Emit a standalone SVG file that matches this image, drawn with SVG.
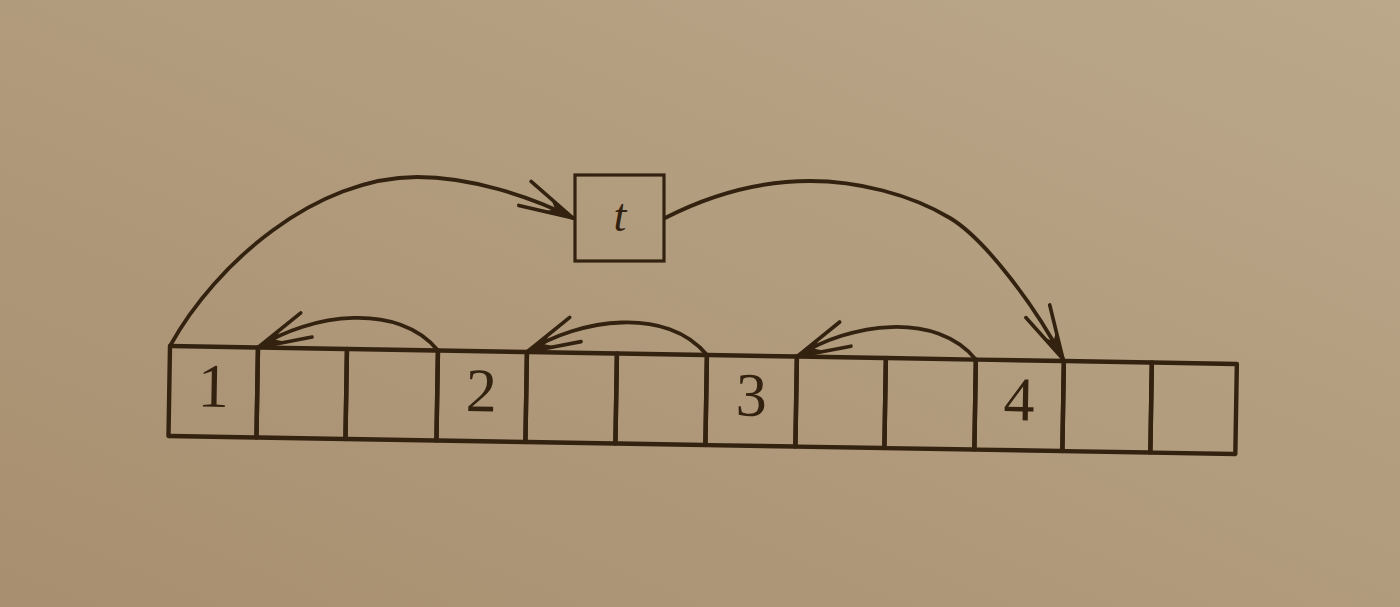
<svg xmlns="http://www.w3.org/2000/svg" width="1400" height="607" viewBox="0 0 1400 607">
<defs>
<linearGradient id="paper" x1="1" y1="0" x2="0" y2="1">
<stop offset="0" stop-color="#bba78a"/>
<stop offset="1" stop-color="#a78f6f"/>
</linearGradient>
<marker id="arr" markerUnits="userSpaceOnUse" viewBox="-70 -40 80 80" markerWidth="80" markerHeight="80" refX="0" refY="0" orient="auto" overflow="visible">
<path d="M0,0 L-54,-13.5 M0,0 L-54,13.5" fill="none" stroke="#33220f" stroke-width="3.6" stroke-linecap="round"/>
<path d="M2,0 L-30,-8.5 L-20,0 L-30,8.5 Z" fill="#33220f"/>
</marker>
<marker id="arrL" markerUnits="userSpaceOnUse" viewBox="-70 -40 80 80" markerWidth="80" markerHeight="80" refX="0" refY="0" orient="auto" overflow="visible">
<path d="M0,0 L-54.7,5.7 M0,0 L-51,-20.7" fill="none" stroke="#33220f" stroke-width="3.6" stroke-linecap="round"/>
<path d="M2,-0.5 L-29,3 L-19,-3 L-27,-11 Z" fill="#33220f"/>
</marker>
<style>
.cell rect{stroke:#33220f;fill:none;stroke-width:4.4;stroke-linejoin:round}
.arc{stroke:#33220f;fill:none;stroke-width:3.8;stroke-linecap:round;marker-end:url(#arr)}
.small{marker-end:url(#arrL)}
.num{font-family:"Liberation Serif","Times New Roman",serif;font-size:62px;fill:#33220f;text-anchor:middle}
</style>
</defs>
<rect x="0" y="0" width="1400" height="607" fill="url(#paper)"/>

<g id="t-box">
<rect x="575" y="175" width="89" height="86" fill="none" stroke="#33220f" stroke-width="3.2"/>
<text x="620" y="231" font-family="Liberation Serif, Times New Roman, serif" font-style="italic" font-size="46" fill="#33220f" text-anchor="middle">t</text>
</g>

<g id="array" transform="rotate(0.966 170 346)">
<g id="cell-1" class="cell"><rect x="170" y="346" width="88" height="90"/><text class="num" x="214" y="406">1</text></g>
<g id="cell-2" class="cell"><rect x="258" y="346" width="89" height="90"/></g>
<g id="cell-3" class="cell"><rect x="347" y="346" width="91" height="90"/></g>
<g id="cell-4" class="cell"><rect x="438" y="346" width="89" height="90"/><text class="num" x="482" y="406">2</text></g>
<g id="cell-5" class="cell"><rect x="527" y="346" width="90" height="90"/></g>
<g id="cell-6" class="cell"><rect x="617" y="346" width="90" height="90"/></g>
<g id="cell-7" class="cell"><rect x="707" y="346" width="90" height="90"/><text class="num" x="752" y="406">3</text></g>
<g id="cell-8" class="cell"><rect x="797" y="346" width="89" height="90"/></g>
<g id="cell-9" class="cell"><rect x="886" y="346" width="90" height="90"/></g>
<g id="cell-10" class="cell"><rect x="976" y="346" width="88" height="90"/><text class="num" x="1020" y="406">4</text></g>
<g id="cell-11" class="cell"><rect x="1064" y="346" width="88" height="90"/></g>
<g id="cell-12" class="cell"><rect x="1152" y="346" width="85" height="90"/></g>
</g>

<g id="connectors">
<path class="arc" d="M170,346 C216,262 317,177 417,177 C470,177 530,196 573,218"/>
<path class="arc" d="M665,218 C710,195 760,181 810,181 C857,181 910,194 950,218 C985,239 1035,306 1063,359"/>
<g transform="rotate(0.966 170 346)">
<path class="arc small" d="M438,346 C398,298 310,311 258,346"/>
<path class="arc small" d="M707,346 C667,298 579,311 527,346"/>
<path class="arc small" d="M976,346 C936,298 849,311 797,346"/>
</g>
</g>
</svg>
